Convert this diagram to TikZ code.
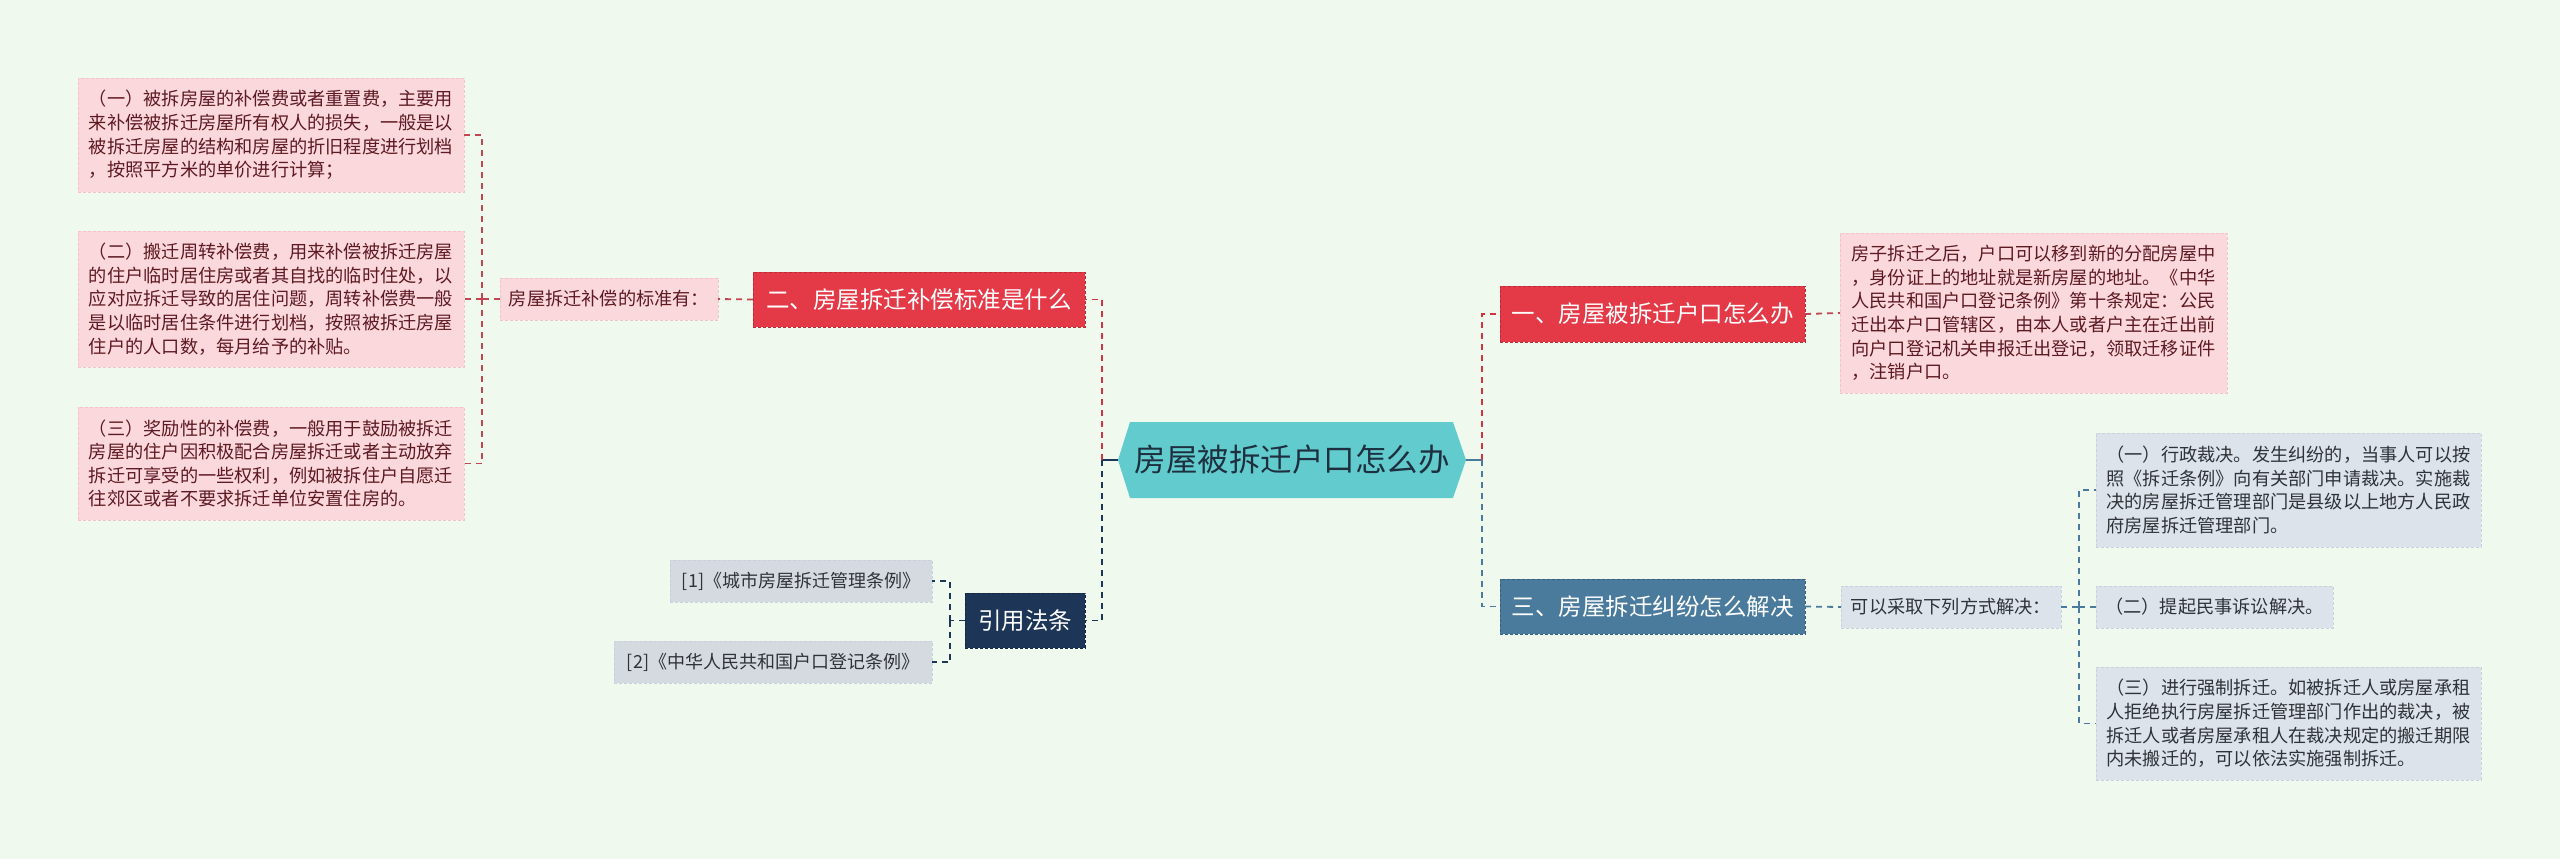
\documentclass[tikz,border=0pt]{standalone}
\usepackage{fontspec}
\setmainfont{Noto Sans CJK SC}
\usetikzlibrary{calc}
\pgfdeclarelayer{bg}
\pgfsetlayers{bg,main}
\definecolor{bgc}{HTML}{F0F9EE}
\definecolor{pinkF}{HTML}{FBD8DC}
\definecolor{pinkB}{HTML}{F3C3C9}
\definecolor{pinkT}{HTML}{5E1A22}
\definecolor{grayF}{HTML}{DCE3EA}
\definecolor{grayB}{HTML}{C9D2DC}
\definecolor{grayT}{HTML}{2F3338}
\definecolor{refF}{HTML}{D5DAE1}
\definecolor{redF}{HTML}{E43A48}
\definecolor{redB}{HTML}{B92B37}
\definecolor{blueF}{HTML}{4A7B9D}
\definecolor{blueB}{HTML}{36607E}
\definecolor{navyF}{HTML}{1D3557}
\definecolor{navyB}{HTML}{132640}
\definecolor{hexF}{HTML}{62CBCD}
\definecolor{hexT}{HTML}{1E3040}
\definecolor{redL}{HTML}{D2343F}
\definecolor{pinkL}{HTML}{C24552}
\definecolor{blueL}{HTML}{4A7B9D}
\definecolor{navyL}{HTML}{1D3557}
\tikzset{
  box/.style={draw, dash pattern=on 3bp off 2bp, line width=0.9bp, align=left,
    font=\fontsize{18.2bp}{23.6bp}\selectfont},
  pinkbox/.style={box, fill=pinkF, draw=pinkB, text=pinkT},
  graybox/.style={box, fill=grayF, draw=grayB, text=grayT},
  refbox/.style={box, fill=refF, draw=grayB, text=grayT, font=\fontsize{18bp}{22bp}\selectfont},
  topic/.style={draw, dash pattern=on 3bp off 2bp, line width=1bp, text=white, align=center,
    font=\fontsize{23.5bp}{28bp}\selectfont},
  redtopic/.style={topic, fill=redF, draw=redB},
  bluetopic/.style={topic, fill=blueF, draw=blueB},
  navytopic/.style={topic, fill=navyF, draw=navyB},
  link/.style={line width=1.8bp, dash pattern=on 6bp off 5bp},
  solidlink/.style={line width=2.4bp}
}
\begin{document}
\begin{tikzpicture}[x=1bp,y=-1bp, every node/.style={inner sep=0pt, outer sep=0pt}]
\begin{pgfonlayer}{bg}
\fill[bgc] (0,0) rectangle (2560,859);
\end{pgfonlayer}
\useasboundingbox (0,0) rectangle (2560,859);

% center
\node[font=\fontsize{31.5bp}{36bp}\selectfont, text=hexT, minimum width=348bp, minimum height=76bp] (hex) at (1292,460) {房屋被拆迁户口怎么办};
\begin{pgfonlayer}{bg}
\fill[hexF] (hex.west) -- ($(hex.north west)+(12,0)$) -- ($(hex.north east)+(-13,0)$) -- (hex.east) -- ($(hex.south east)+(-13,0)$) -- ($(hex.south west)+(12,0)$) -- cycle;
\end{pgfonlayer}

% left branch
\node[redtopic, minimum width=332bp, minimum height=55bp] (n2) at (919,299.5) {二、房屋拆迁补偿标准是什么};
\node[pinkbox, minimum width=218bp, minimum height=42bp] (s) at (609,299) {房屋拆迁补偿的标准有：};
\node[pinkbox, minimum width=386bp, minimum height=114bp] (a1) at (271,135) {（一）被拆房屋的补偿费或者重置费，主要用\\来补偿被拆迁房屋所有权人的损失，一般是以\\被拆迁房屋的结构和房屋的折旧程度进行划档\\，按照平方米的单价进行计算；};
\node[pinkbox, minimum width=386bp, minimum height=136bp] (a2) at (271,299) {（二）搬迁周转补偿费，用来补偿被拆迁房屋\\的住户临时居住房或者其自找的临时住处，以\\应对应拆迁导致的居住问题，周转补偿费一般\\是以临时居住条件进行划档，按照被拆迁房屋\\住户的人口数，每月给予的补贴。};
\node[pinkbox, minimum width=386bp, minimum height=113bp] (a3) at (271,463.5) {（三）奖励性的补偿费，一般用于鼓励被拆迁\\房屋的住户因积极配合房屋拆迁或者主动放弃\\拆迁可享受的一些权利，例如被拆住户自愿迁\\往郊区或者不要求拆迁单位安置住房的。};

\node[navytopic, minimum width=120bp, minimum height=55bp] (law) at (1025,620.5) {引用法条};
\node[refbox, minimum width=262bp, minimum height=42bp] (r1) at (801,581) {[1]《城市房屋拆迁管理条例》};
\node[refbox, minimum width=318bp, minimum height=42bp] (r2) at (773,662) {[2]《中华人民共和国户口登记条例》};

% right branch
\node[redtopic, minimum width=305bp, minimum height=56bp] (n1) at (1652.5,314) {一、房屋被拆迁户口怎么办};
\node[pinkbox, minimum width=387bp, minimum height=160bp] (t1) at (2033.5,313) {房子拆迁之后，户口可以移到新的分配房屋中\\，身份证上的地址就是新房屋的地址。《中华\\人民共和国户口登记条例》第十条规定：公民\\迁出本户口管辖区，由本人或者户主在迁出前\\向户口登记机关申报迁出登记，领取迁移证件\\，注销户口。};
\node[bluetopic, minimum width=305bp, minimum height=55bp] (n3) at (1652.5,606.5) {三、房屋拆迁纠纷怎么解决};
\node[graybox, minimum width=220bp, minimum height=42bp] (c) at (1951,607) {可以采取下列方式解决：};
\node[graybox, minimum width=385bp, minimum height=114bp] (b1) at (2288.5,490) {（一）行政裁决。发生纠纷的，当事人可以按\\照《拆迁条例》向有关部门申请裁决。实施裁\\决的房屋拆迁管理部门是县级以上地方人民政\\府房屋拆迁管理部门。};
\node[graybox, minimum width=237bp, minimum height=42bp] (b2) at (2214.5,607) {（二）提起民事诉讼解决。};
\node[graybox, minimum width=385bp, minimum height=113bp] (b3) at (2288.5,723.5) {（三）进行强制拆迁。如被拆迁人或房屋承租\\人拒绝执行房屋拆迁管理部门作出的裁决，被\\拆迁人或者房屋承租人在裁决规定的搬迁期限\\内未搬迁的，可以依法实施强制拆迁。};

% junctions
\coordinate (jl) at (1102,460);
\coordinate (jr) at (1482,460);
\coordinate (js) at (482,299);
\coordinate (jlaw) at (950,620.5);
\coordinate (jc) at (2079,607);

% connectors
\begin{pgfonlayer}{bg}
\draw[solidlink, navyL] (hex.west) -- (jl);
\draw[solidlink, blueL] (hex.east) -- (jr);
\end{pgfonlayer}
\draw[link, redL] (jl) |- (n2.east);
\draw[link, navyL] (jl) |- (law.east);
\draw[link, redL] (jr) |- (n1.west);
\draw[link, blueL] (jr) |- (n3.west);

\draw[link, pinkL] (n2.west) -- (s.east);
\draw[link, pinkL] (s.west) -- (js);
\draw[link, pinkL] (js) |- (a1.east);
\draw[link, pinkL] (js) -- (a2.east);
\draw[link, pinkL] (js) |- (a3.east);

\draw[link, navyL] (law.west) -- (jlaw);
\draw[link, navyL] (jlaw) |- (r1.east);
\draw[link, navyL] (jlaw) |- (r2.east);

\draw[link, pinkL] (n1.east) -- (t1.west);
\draw[link, blueL] (n3.east) -- (c.west);
\draw[link, blueL] (c.east) -- (jc);
\draw[link, blueL] (jc) |- (b1.west);
\draw[link, blueL] (jc) -- (b2.west);
\draw[link, blueL] (jc) |- (b3.west);
\end{tikzpicture}
\end{document}
